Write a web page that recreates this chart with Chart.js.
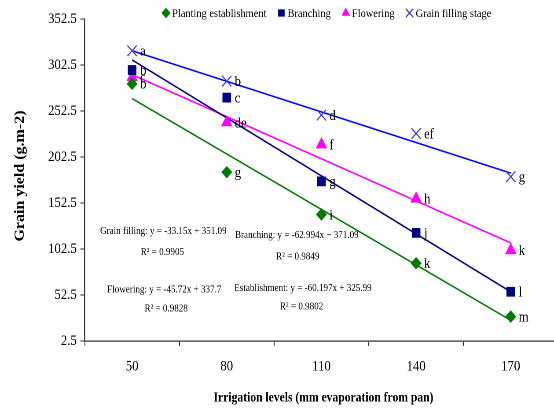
<!DOCTYPE html>
<html>
<head>
<meta charset="utf-8">
<script src="https://cdn.jsdelivr.net/npm/chart.js@4.4.1/dist/chart.umd.min.js"></script>
<style>
  html, body { margin: 0; padding: 0; background: #fff; overflow: hidden; }
  /* the original picture is squeezed horizontally, so draw wider and squeeze */
  #wrap { width: 643px; height: 413px; transform: scaleX(0.88); transform-origin: 0 0; }
  #chart { width: 643px; height: 413px; display: block; }
</style>
</head>
<body>
<div id="wrap"><canvas id="chart" width="643" height="413"></canvas></div>
<script>
const levels = ['50', '80', '110', '140', '170'];

const establishment = [282, 186, 140, 87, 29];
const branching = [297, 267, 176, 120, 56];
const flowering = [289, 240, 216, 157, 101];
const grainFilling = [318, 285, 248, 228, 181];

const estLetters = ['b', 'g', 'i', 'k', 'm'];
const branchLetters = ['b', 'c', 'g', 'j', 'l'];
const flowLetters = ['c', 'de', 'f', 'h', 'k'];
const grainLetters = ['a', 'b', 'd', 'ef', 'g'];

// trend line values at 50 and 170
const estTrend = [266, 25];
const branchTrend = [308, 56];
const flowTrend = [292, 109];
const grainTrend = [318, 185];

const yTicks = [2.5, 52.5, 102.5, 152.5, 202.5, 252.5, 302.5, 352.5];

const SERIF = '"Liberation Serif", "Times New Roman", serif';
const GREEN = '#007a00';
const NAVY = '#000080';
const MAGENTA = '#ff00ff';
const BLUE = '#0000ff';
const XCOL = '#4040c0';

// equation texts: [text, category position, y value]
const equations = [
  ['Grain filling: y = -33.15x + 351.09', 0.33, 122],
  ['R² = 0.9905', 0.32, 99],
  ['Flowering: y = -45.72x + 337.7', 0.34, 58],
  ['R² = 0.9828', 0.36, 37.5],
  ['Branching: y = -62.994x + 371.09', 1.74, 117.5],
  ['R² = 0.9849', 1.75, 94],
  ['Establishment: y = -60.197x + 325.99', 1.805, 60],
  ['R² = 0.9802', 1.79, 39.5]
];

function ends(pair) {
  return [pair[0], null, null, null, pair[1]];
}

function markerSet(label, data, letters, style, radius, color) {
  return {
    label: label,
    data: data,
    letters: letters,
    showLine: false,
    pointStyle: style,
    pointRadius: radius,
    pointHoverRadius: radius,
    pointBackgroundColor: color,
    pointBorderColor: color,
    pointBorderWidth: style === 'crossRot' ? 1.3 : 1,
    inLegend: true
  };
}

function trendSet(data, color) {
  return {
    label: 'trend',
    data: ends(data),
    spanGaps: true,
    borderColor: color,
    borderWidth: 1.6,
    pointRadius: 0,
    pointHoverRadius: 0,
    fill: false
  };
}

const decorations = {
  id: 'decorations',
  afterDraw(chart) {
    const ctx = chart.ctx;
    const xs = chart.scales.x;
    const ys = chart.scales.y;

    // point letters
    ctx.save();
    ctx.fillStyle = '#000';
    ctx.font = '14.5px ' + SERIF;
    ctx.textAlign = 'left';
    ctx.textBaseline = 'middle';
    chart.data.datasets.forEach((ds, i) => {
      if (!ds.letters) return;
      chart.getDatasetMeta(i).data.forEach((pt, j) => {
        ctx.fillText(ds.letters[j], pt.x + 9, pt.y + 1);
      });
    });

    // equations
    ctx.font = '10.3px ' + SERIF;
    ctx.textAlign = 'center';
    equations.forEach(e => {
      ctx.fillText(e[0], xs.getPixelForValue(e[1]), ys.getPixelForValue(e[2]));
    });

    // legend
    ctx.font = '11.8px ' + SERIF;
    ctx.textAlign = 'left';
    let x = 188.6;
    const y = 13;
    chart.data.datasets.forEach(ds => {
      if (!ds.inLegend) return;
      ctx.fillStyle = ds.pointBackgroundColor;
      ctx.strokeStyle = ds.pointBorderColor;
      ctx.lineWidth = ds.pointBorderWidth;
      Chart.helpers.drawPoint(ctx, {
        pointStyle: ds.pointStyle,
        radius: ds.pointStyle === 'crossRot' ? 6 : 4.5,
        borderWidth: ds.pointBorderWidth
      }, x, y);
      ctx.fillStyle = '#000';
      ctx.fillText(ds.label, x + 7, y + 1);
      x += 7 + ctx.measureText(ds.label).width + 17;
    });

    // axis titles
    ctx.font = 'bold 13.2px ' + SERIF;
    ctx.textAlign = 'center';
    ctx.fillText('Irrigation levels (mm evaporation from pan)', 367.6, 398);
    ctx.translate(22.7, 176);
    ctx.rotate(-Math.PI / 2);
    ctx.font = 'bold 16px ' + SERIF;
    ctx.fillText('Grain yield (g.m-2)', 0, 0);
    ctx.restore();
  }
};

new Chart(document.getElementById('chart'), {
  type: 'line',
  data: {
    labels: levels,
    datasets: [
      markerSet('Planting establishment', establishment, estLetters, 'rectRot', 5.5, GREEN),
      markerSet('Branching', branching, branchLetters, 'rect', 6.2, NAVY),
      markerSet('Flowering', flowering, flowLetters, 'triangle', 6.5, MAGENTA),
      markerSet('Grain filling stage', grainFilling, grainLetters, 'crossRot', 7.5, XCOL),
      trendSet(estTrend, GREEN),
      trendSet(branchTrend, NAVY),
      trendSet(flowTrend, MAGENTA),
      trendSet(grainTrend, BLUE)
    ]
  },
  options: {
    responsive: false,
    animation: false,
    devicePixelRatio: 2,
    layout: { padding: { top: 19, right: 0, bottom: 0, left: 0 } },
    plugins: {
      legend: { display: false },
      tooltip: { enabled: false }
    },
    scales: {
      x: {
        type: 'category',
        offset: true,
        grid: { offset: true, drawOnChartArea: false, drawTicks: true, tickLength: 5, color: '#333' },
        border: { display: true, color: '#333', width: 1.2 },
        ticks: { color: '#000', font: { family: SERIF, size: 14.5 }, padding: 12, maxRotation: 0 },
        afterFit(scale) { scale.height = 72; }
      },
      y: {
        min: 2.5,
        max: 352.5,
        afterBuildTicks(scale) { scale.ticks = yTicks.map(v => ({ value: v })); },
        grid: { drawOnChartArea: false, drawTicks: true, tickLength: 5, color: '#333' },
        border: { display: true, color: '#333', width: 1.2 },
        ticks: {
          color: '#000',
          font: { family: SERIF, size: 14.5 },
          padding: 4,
          callback: v => v.toFixed(1)
        },
        afterFit(scale) { scale.width = 96.3; }
      }
    }
  },
  plugins: [decorations]
});
</script>
</body>
</html>
